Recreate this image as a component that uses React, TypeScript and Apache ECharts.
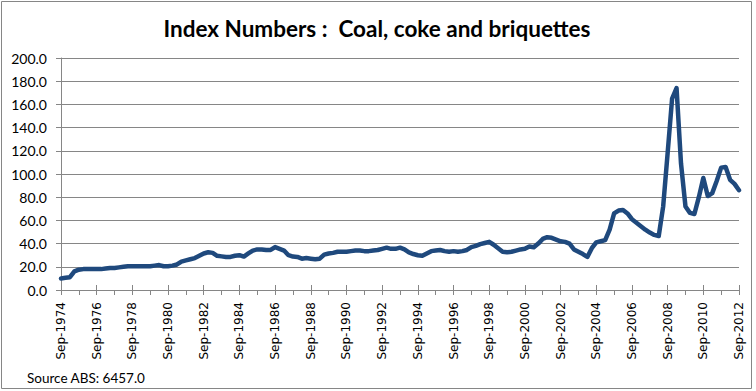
import React, { useEffect, useRef } from "react";
import * as echarts from "echarts";

// Quarterly index values, Sep-1974 .. Sep-2012
const indexValues: number[] = [
  10, 10.5, 11, 16, 17.5, 18, 18, 18, 18, 18,
  18.5, 19, 19, 19.5, 20, 20.5, 20.5, 20.5, 20.5, 20.5,
  20.5, 21, 21.5, 20.5, 20.5, 21, 22, 24.5, 25.5, 26.5,
  27.5, 29.5, 31.5, 32.5, 32, 29.5, 29, 28.5, 28.5, 29.5,
  30, 28.8, 31.5, 34, 35, 35, 34.5, 34.5, 37, 35.5,
  34, 30, 28.8, 28.5, 27, 27.5, 27, 26.5, 27, 30.5,
  31.5, 32, 33, 33, 33, 33.5, 34, 34, 33.5, 33.5,
  34, 34.5, 35.5, 36.5, 35.5, 35.5, 36.5, 35, 32.5, 31,
  30, 29.5, 31.5, 33.5, 34, 34.5, 33.5, 33, 33.5, 33,
  33.5, 34.5, 37, 38, 39.5, 40.5, 41.5, 39, 36, 33,
  32.5, 33, 34, 35, 35.5, 37.5, 36.8, 40, 44, 45.5,
  45, 43.5, 42, 41.5, 40, 35, 33, 31, 28.5, 36,
  41, 42, 43, 52, 66, 68.5, 69, 66, 61, 58,
  55, 52, 49.5, 47.5, 46.5, 72, 118, 165, 174, 109,
  72, 66.5, 65.5, 80, 96.5, 81, 83.5, 94, 105.5, 106,
  95, 91.5, 86,
];

const quarterMonths: string[] = ["Sep", "Dec", "Mar", "Jun"];
const startYear = 1974;
const categories: string[] = indexValues.map((_, i) => {
  const m = quarterMonths[i % 4];
  const yr = startYear + Math.floor(i / 4) + (i % 4 >= 2 ? 1 : 0);
  return `${m}-${yr}`;
});

const titleText = "Index Numbers :  Coal, coke and briquettes";
const sourceText = "Source ABS: 6457.0";
const yTicks = { min: 0, max: 200, interval: 20 };

export default function App() {
  const ref = useRef<HTMLDivElement>(null);
  useEffect(() => {
    if (!ref.current) return;
    const chart = echarts.init(ref.current, undefined, { renderer: "svg" });
    const gray = "#868686";
    chart.setOption({
      animation: false,
      backgroundColor: "#ffffff",
      grid: { left: 61, right: 17, top: 58, bottom: 101, containLabel: false },
      xAxis: [
        {
          type: "category",
          data: categories,
          boundaryGap: false,
          position: "bottom",
          axisLine: { show: true, lineStyle: { color: gray, width: 1 } },
          axisTick: { show: true, interval: 3, length: 5, lineStyle: { color: gray } },
          axisLabel: {
            interval: 7,
            rotate: 90,
            margin: 12,
            color: "#000",
            fontFamily: "DejaVu Sans",
            fontSize: 12,
          },
          splitLine: { show: false },
        },
        {
          type: "category",
          data: categories,
          boundaryGap: false,
          position: "bottom",
          axisLine: { show: false },
          axisTick: { show: true, inside: true, interval: 7, length: 5, lineStyle: { color: gray } },
          axisLabel: { show: false },
          splitLine: { show: false },
        },
      ],
      yAxis: {
        type: "value",
        min: yTicks.min,
        max: yTicks.max,
        interval: yTicks.interval,
        axisLine: { show: true, lineStyle: { color: gray, width: 1 } },
        axisTick: { show: true, length: 5, lineStyle: { color: gray } },
        axisLabel: {
          formatter: (v: number) => v.toFixed(1),
          color: "#000",
          fontFamily: "Lato",
          fontSize: 14,
          margin: 14,
        },
        splitLine: { show: true, lineStyle: { color: gray, width: 1 } },
      },
      series: [
        {
          type: "line",
          xAxisIndex: 0,
          data: indexValues,
          symbol: "none",
          smooth: false,
          lineStyle: { color: "#1F497D", width: 4.5, cap: "round", join: "round" },
        },
      ],
      graphic: [
        {
          type: "rect",
          shape: { x: 1.5, y: 1.5, width: 750, height: 387 },
          style: { fill: "none", stroke: gray, lineWidth: 1 },
          silent: true,
        },
        {
          type: "text",
          x: 377,
          y: 28,
          style: {
            text: titleText,
            fontFamily: "Lato",
            fontWeight: "bold",
            fontSize: 22.5,
            fill: "#000",
            align: "center",
            verticalAlign: "middle",
          },
        },
        {
          type: "text",
          x: 27,
          y: 378,
          style: {
            text: sourceText,
            fontFamily: "Lato",
            fontSize: 13.5,
            fill: "#000",
            align: "left",
            verticalAlign: "middle",
          },
        },
      ],
    });
    return () => chart.dispose();
  }, []);
  return (
    <div
      ref={ref}
      style={{ position: "fixed", left: 0, top: 0, width: 756, height: 391 }}
    />
  );
}
